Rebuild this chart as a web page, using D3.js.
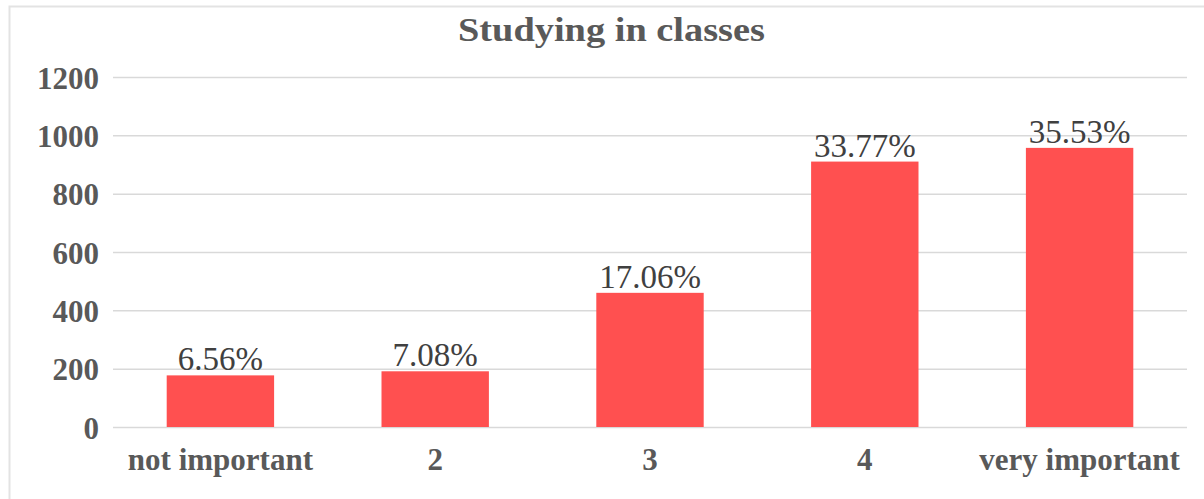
<!DOCTYPE html>
<html>
<head>
<meta charset="utf-8">
<script src="https://cdn.jsdelivr.net/npm/d3@7"></script>
<style>
  body { margin: 0; background: #fff; }
  text { font-family: "Liberation Serif", "Times New Roman", serif; }
</style>
</head>
<body>
<script>
// chart data
var categories = ["not important", "2", "3", "4", "very important"];
var counts = [177, 191, 460, 910, 957];
var percentLabels = ["6.56%", "7.08%", "17.06%", "33.77%", "35.53%"];
var yTicks = [0, 200, 400, 600, 800, 1000, 1200];

var W = 1204, H = 499;
var margin = {top: 77, right: 17, bottom: 72, left: 113},
    width = W - margin.left - margin.right,
    height = H - margin.top - margin.bottom;

var svg = d3.select("body").append("svg")
    .attr("width", W)
    .attr("height", H);

// outer frame
svg.append("rect")
    .attr("x", 9.5).attr("y", 6.5)
    .attr("width", 1300).attr("height", 600)
    .attr("fill", "none")
    .attr("stroke", "#e3e3e3")
    .attr("stroke-width", 2);

svg.append("text")
    .attr("x", 611.5).attr("y", 41)
    .attr("text-anchor", "middle")
    .attr("font-size", 34)
    .attr("font-weight", "bold")
    .attr("fill", "#595959")
    .attr("textLength", 307)
    .attr("lengthAdjust", "spacingAndGlyphs")
    .text("Studying in classes");

var g = svg.append("g")
    .attr("transform", "translate(" + margin.left + "," + margin.top + ")");

var x = d3.scaleBand()
    .domain(categories)
    .range([0, width])
    .paddingInner(0.5)
    .paddingOuter(0.25);

var y = d3.scaleLinear()
    .domain([0, 1200])
    .range([height, 0]);

var yAxis = d3.axisLeft(y)
    .tickValues(yTicks)
    .tickSize(-width)
    .tickFormat(d3.format("d"));

function customYAxis(g) {
    g.call(yAxis);
    g.select(".domain").remove();
    g.selectAll(".tick line").attr("stroke", "#d9d9d9").attr("stroke-width", 1.5);
    g.selectAll(".tick text")
        .attr("x", -14)
        .attr("dy", "0.36em")
        .attr("font-size", 31)
        .attr("font-weight", "bold")
        .attr("fill", "#595959");
}

var xAxis = d3.axisBottom(x).tickSize(0);

function customXAxis(g) {
    g.call(xAxis);
    g.select(".domain").remove();
    g.selectAll(".tick text")
        .attr("y", 43)
        .attr("dy", 0)
        .attr("font-size", 31)
        .attr("font-weight", "bold")
        .attr("fill", "#595959");
}

g.append("g").call(customYAxis);
g.append("g").attr("transform", "translate(0," + height + ")").call(customXAxis);
g.selectAll(".tick text").attr("font-family", "Liberation Serif, Times New Roman, serif");

g.selectAll(".bar")
    .data(counts)
    .enter().append("rect")
    .attr("class", "bar")
    .attr("x", function(d, i) { return x(categories[i]); })
    .attr("y", function(d) { return y(d); })
    .attr("width", x.bandwidth())
    .attr("height", function(d) { return height - y(d); })
    .attr("fill", "#ff5050");

g.selectAll(".label")
    .data(counts)
    .enter().append("text")
    .attr("class", "label")
    .attr("x", function(d, i) { return x(categories[i]) + x.bandwidth() / 2; })
    .attr("y", function(d) { return y(d) - 5; })
    .attr("text-anchor", "middle")
    .attr("font-size", 33)
    .attr("fill", "#404040")
    .text(function(d, i) { return percentLabels[i]; });
</script>
</body>
</html>
